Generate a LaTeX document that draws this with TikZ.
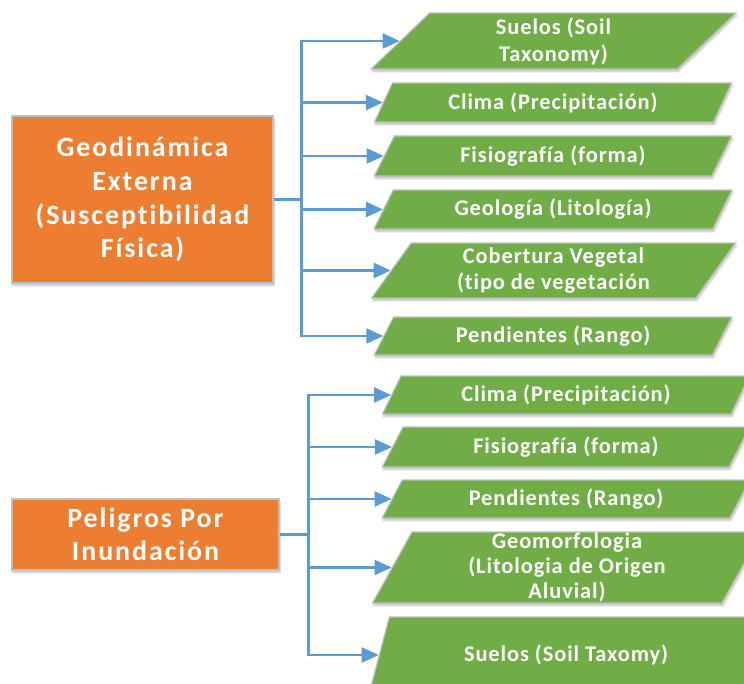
\documentclass[tikz,border=0pt]{standalone}
\usepackage{fontspec}
\setmainfont{Carlito}[LetterSpace=4, Ligatures=NoCommon]
\newfontfamily\temafont{Carlito}[LetterSpace=7, Ligatures=NoCommon]
\usetikzlibrary{shapes.geometric,arrows.meta,shadows.blur}

\definecolor{naranja}{HTML}{ED7D31}
\definecolor{verde}{HTML}{70AD47}
\definecolor{azul}{HTML}{5B9BD5}
\definecolor{gris}{HTML}{BFBFBF}

\tikzset{
  sombra/.style={blur shadow={shadow xshift=1pt, shadow yshift=-2.5pt, shadow blur steps=6, shadow opacity=25}},
  tema/.style={rectangle, draw=gris, line width=1.2bp, fill=naranja, text=white, align=center,
    font=\temafont\bfseries\fontsize{28}{34}\selectfont, inner sep=0pt, sombra},
  factor/.style={trapezium, trapezium left angle=60, trapezium right angle=120, trapezium stretches=true,
    draw=gris, line width=1.2bp, fill=verde, text=white, align=center, inner sep=0pt,
    font=\bfseries\fontsize{22.5}{27}\selectfont, minimum width=358bp, minimum height=39bp, sombra},
  flecha/.style={azul, line width=2.5bp, -{Triangle[length=17bp,width=15bp]}},
}

\begin{document}
\begin{tikzpicture}[x=1bp, y=-1bp] % y grows downwards
  \clip (0,0) rectangle (744,684);

  % Geodinamica externa
  \node[tema, minimum width=261bp, minimum height=167bp] (geo) at (142.5,199.5)
    {Geodinámica\\Externa\\(Susceptibilidad\\Física)};

  \node[factor, minimum width=365bp, minimum height=56bp] (suelosA) at (553.5,41) {Suelos (Soil\\Taxonomy)};
  \node[factor] (climaA) at (553,102.5) {Clima (Precipitación)};
  \node[factor, minimum height=40bp] (fisioA) at (553,156) {Fisiografía (forma)};
  \node[factor] (geolA) at (553,209.5) {Geología (Litología)};
  \node[factor, minimum width=365bp, minimum height=55bp] (coberA) at (553.5,270.5) {Cobertura Vegetal\\(tipo de vegetación};
  \node[factor, minimum height=38bp] (pendA) at (553,336) {Pendientes (Rango)};

  \foreach \hijo in {suelosA,climaA,fisioA,geolA,coberA,pendA}
    \draw[flecha] (geo.east) -- ++(28,0) |- (\hijo.left side);

  % Peligros por inundacion
  \node[tema, minimum width=267bp, minimum height=71bp, font=\temafont\bfseries\fontsize{28}{33}\selectfont] (inund) at (145.5,534.5)
    {Peligros Por\\Inundación};

  \node[factor, minimum width=368bp, minimum height=38bp] (climaB) at (566,395) {Clima (Precipitación)};
  \node[factor, minimum width=368bp, minimum height=40bp] (fisioB) at (566,447) {Fisiografía (forma)};
  \node[factor, minimum width=368bp, minimum height=38bp] (pendB) at (566,499) {Pendientes (Rango)};
  \node[factor, trapezium left angle=70, trapezium right angle=110, minimum width=390bp, minimum height=71bp,
    font=\bfseries\fontsize{22.5}{25}\selectfont] (geomB) at (567,567.5)
    {Geomorfologia\\(Litologia de Origen\\Aluvial)};
  \node[factor, minimum width=394bp, minimum height=76bp] (suelosB) at (566,655) {Suelos (Soil Taxomy)};

  \foreach \hijo in {climaB,fisioB,pendB,geomB,suelosB}
    \draw[flecha] (inund.east) -- ++(29,0) |- (\hijo.left side);
\end{tikzpicture}
\end{document}
